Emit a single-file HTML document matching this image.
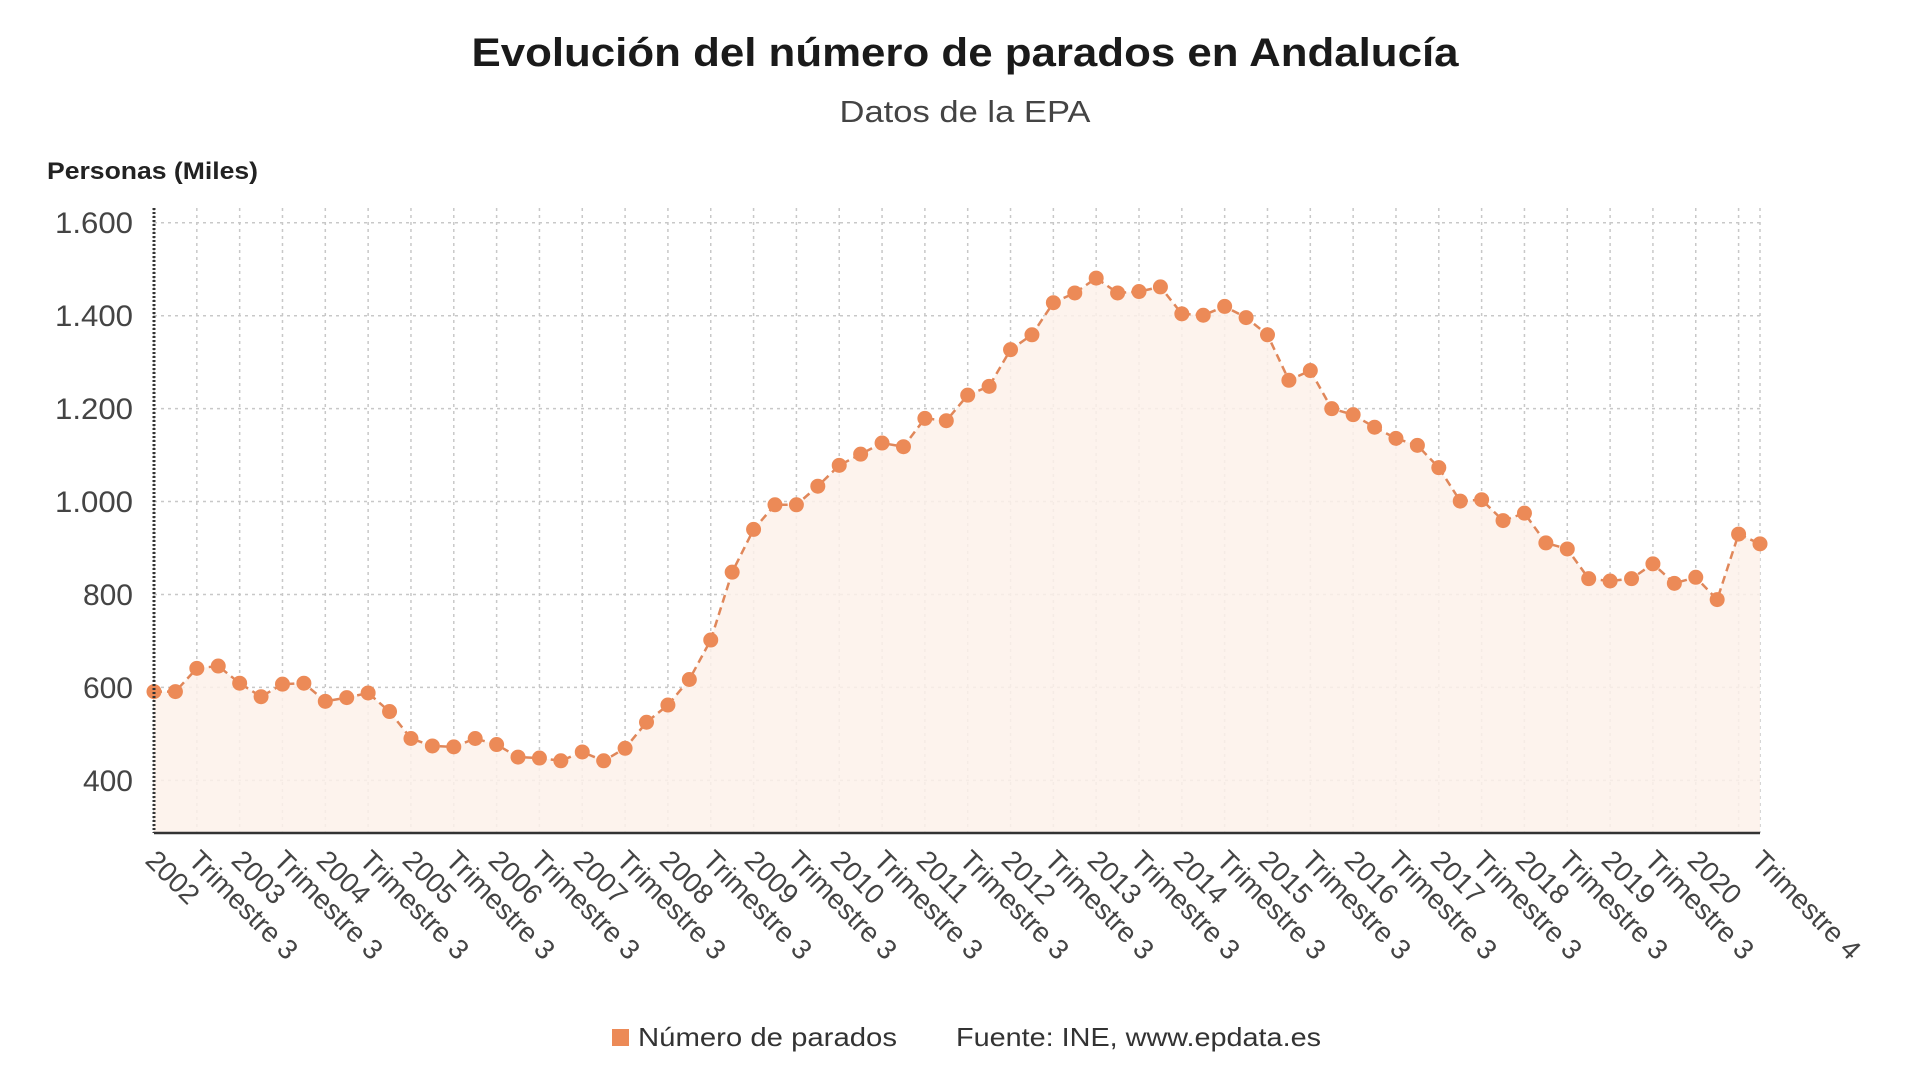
<!DOCTYPE html>
<html><head><meta charset="utf-8"><style>
html,body{margin:0;padding:0;background:#fff;width:1920px;height:1080px;overflow:hidden}
svg{display:block;font-family:"Liberation Sans","DejaVu Sans",sans-serif}
</style></head><body>
<svg id="s" width="1920" height="1080" viewBox="0 0 1920 1080" xmlns="http://www.w3.org/2000/svg">
<text x="965" y="66" text-anchor="middle" font-size="40" font-weight="bold" fill="#1a1a1a" textLength="987" lengthAdjust="spacingAndGlyphs">Evolución del número de parados en Andalucía</text>
<text x="965" y="122" text-anchor="middle" font-size="31" fill="#444" textLength="251" lengthAdjust="spacingAndGlyphs">Datos de la EPA</text>
<text x="47" y="179" font-size="24" font-weight="bold" fill="#222" textLength="211" lengthAdjust="spacingAndGlyphs">Personas (Miles)</text>
<g id="grid" stroke="#c8c8c8" stroke-width="1.5" stroke-dasharray="3,4"></g>
<path id="area" fill="#fdf1ea" opacity="0.85"></path>
<path id="line" fill="none" stroke="#e0875a" stroke-width="2.5" stroke-dasharray="8,5"></path>
<g id="dots" fill="#ec8a57"></g>
<line x1="154" y1="208" x2="154" y2="833" stroke="#333" stroke-width="3" stroke-dasharray="2,2"/>
<line x1="154" y1="833" x2="1760" y2="833" stroke="#333" stroke-width="2.5"/>
<g font-size="30" fill="#444" text-anchor="end">
<text x="133" y="233" textLength="78" lengthAdjust="spacingAndGlyphs">1.600</text><text x="133" y="326" textLength="78" lengthAdjust="spacingAndGlyphs">1.400</text><text x="133" y="419" textLength="78" lengthAdjust="spacingAndGlyphs">1.200</text><text x="133" y="512" textLength="78" lengthAdjust="spacingAndGlyphs">1.000</text><text x="133" y="605">800</text><text x="133" y="698">600</text><text x="133" y="791">400</text>
</g>
<g font-size="28" fill="#444">
<text transform="translate(144,862) rotate(45)">2002</text>
<text transform="translate(187,862) rotate(45)">Trimestre 3</text>
<text transform="translate(230,862) rotate(45)">2003</text>
<text transform="translate(272,862) rotate(45)">Trimestre 3</text>
<text transform="translate(315,862) rotate(45)">2004</text>
<text transform="translate(358,862) rotate(45)">Trimestre 3</text>
<text transform="translate(401,862) rotate(45)">2005</text>
<text transform="translate(444,862) rotate(45)">Trimestre 3</text>
<text transform="translate(487,862) rotate(45)">2006</text>
<text transform="translate(529,862) rotate(45)">Trimestre 3</text>
<text transform="translate(572,862) rotate(45)">2007</text>
<text transform="translate(615,862) rotate(45)">Trimestre 3</text>
<text transform="translate(658,862) rotate(45)">2008</text>
<text transform="translate(701,862) rotate(45)">Trimestre 3</text>
<text transform="translate(743,862) rotate(45)">2009</text>
<text transform="translate(786,862) rotate(45)">Trimestre 3</text>
<text transform="translate(829,862) rotate(45)">2010</text>
<text transform="translate(872,862) rotate(45)">Trimestre 3</text>
<text transform="translate(915,862) rotate(45)">2011</text>
<text transform="translate(958,862) rotate(45)">Trimestre 3</text>
<text transform="translate(1000,862) rotate(45)">2012</text>
<text transform="translate(1043,862) rotate(45)">Trimestre 3</text>
<text transform="translate(1086,862) rotate(45)">2013</text>
<text transform="translate(1129,862) rotate(45)">Trimestre 3</text>
<text transform="translate(1172,862) rotate(45)">2014</text>
<text transform="translate(1215,862) rotate(45)">Trimestre 3</text>
<text transform="translate(1257,862) rotate(45)">2015</text>
<text transform="translate(1300,862) rotate(45)">Trimestre 3</text>
<text transform="translate(1343,862) rotate(45)">2016</text>
<text transform="translate(1386,862) rotate(45)">Trimestre 3</text>
<text transform="translate(1429,862) rotate(45)">2017</text>
<text transform="translate(1471,862) rotate(45)">Trimestre 3</text>
<text transform="translate(1514,862) rotate(45)">2018</text>
<text transform="translate(1557,862) rotate(45)">Trimestre 3</text>
<text transform="translate(1600,862) rotate(45)">2019</text>
<text transform="translate(1643,862) rotate(45)">Trimestre 3</text>
<text transform="translate(1686,862) rotate(45)">2020</text>
<text transform="translate(1750,862) rotate(45)">Trimestre 4</text>
</g>
<rect x="612" y="1029" width="17" height="17" fill="#ec8a57"/>
<text x="638" y="1046" font-size="26" fill="#333" textLength="259" lengthAdjust="spacingAndGlyphs">Número de parados</text>
<text x="956" y="1046" font-size="26" fill="#333" textLength="365" lengthAdjust="spacingAndGlyphs">Fuente: INE, www.epdata.es</text>
</svg>
<script>
var v=[591,591,641,646,609,580,607,609,570,578,588,548,490,474,472,490,477,450,448,442,461,442,469,525,562,617,702,848,940,993,993,1033,1078,1102,1126,1118,1179,1174,1229,1248,1327,1359,1428,1449,1481,1449,1452,1462,1404,1401,1420,1396,1359,1261,1282,1200,1187,1160,1136,1121,1073,1001,1004,959,975,911,898,834,829,834,866,824,837,789,930,909];
var x0=154,dx=(1760-154)/75;
function Y(a){return 222.8+(1600-a)*0.4646;}
var g=document.getElementById('grid'),h='';
[1600,1400,1200,1000,800,600,400].forEach(function(a){h+='<line x1="154" x2="1760" y1="'+Y(a)+'" y2="'+Y(a)+'"/>';});
for(var i=0;i<=75;i++){if(i%2==0||i==75){var x=x0+i*dx;h+='<line x1="'+x+'" x2="'+x+'" y1="208" y2="833"/>';}}
g.innerHTML=h;
var d='',dd='';
v.forEach(function(a,i){var x=x0+i*dx,y=Y(a);d+=(i?'L':'M')+x+','+y;dd+='<circle cx="'+x+'" cy="'+y+'" r="7.5"/>';});
document.getElementById('line').setAttribute('d',d);
document.getElementById('area').setAttribute('d',d+'L1760,833L154,833Z');
document.getElementById('dots').innerHTML=dd;
</script>
</body></html>
